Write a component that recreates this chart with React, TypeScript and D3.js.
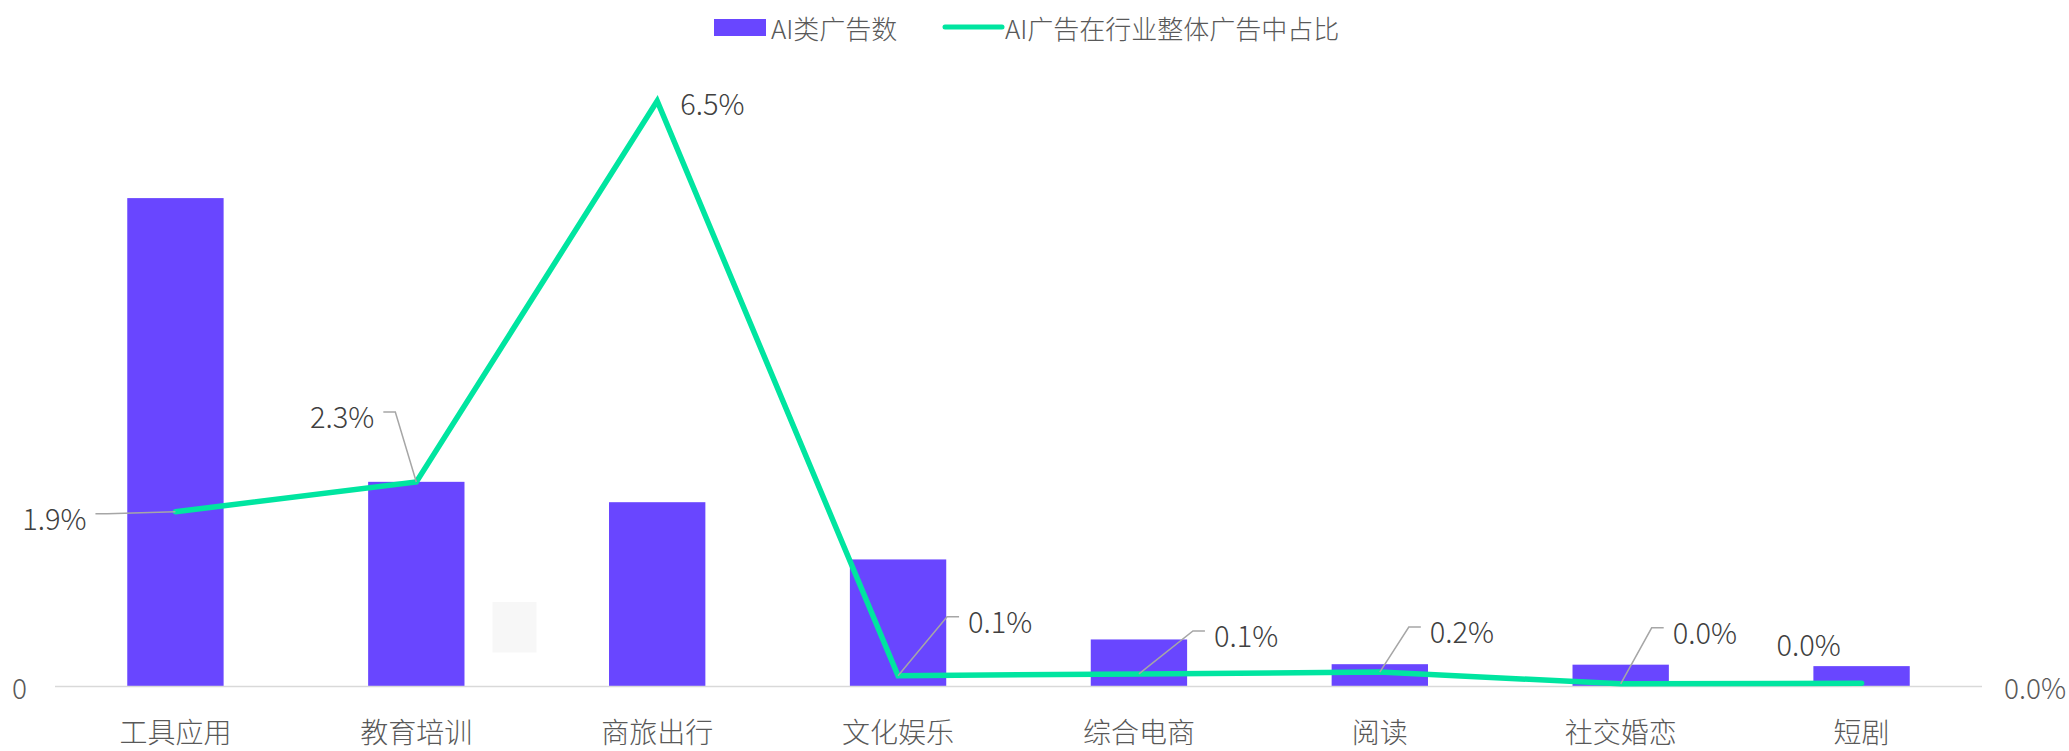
import React from 'react';
import * as d3 from 'd3';

// data
const categories = ['工具应用', '教育培训', '商旅出行', '文化娱乐', '综合电商', '阅读', '社交婚恋', '短剧'];
const adCounts = [1007, 422, 380, 262, 97, 46, 45, 42];
const aiShare = [1.94, 2.27, 6.5, 0.12, 0.14, 0.16, 0.03, 0.035];
const seriesNames = ['AI类广告数', 'AI广告在行业整体广告中占比'];

// label placement relative to each point (dx, dy, side, leader)
const labelLayout = [
  { dx: -89, dy: 5, anchor: 'end', leader: true },
  { dx: -42, dy: -67, anchor: 'end', leader: true },
  { dx: 23, dy: 1, anchor: 'start', leader: false },
  { dx: 70, dy: -56, anchor: 'start', leader: true },
  { dx: 75, dy: -40, anchor: 'start', leader: true },
  { dx: 50, dy: -42, anchor: 'start', leader: true },
  { dx: 52, dy: -53, anchor: 'start', leader: true },
  { dx: -53, dy: -40, anchor: 'middle', leader: false },
];

const W = 2069, H = 751;
const BAR = '#6946ff';
const LINE = '#00e5a0';
const FONT = '"Noto Sans CJK SC Light", "Noto Sans CJK SC", "Noto Sans", sans-serif';

export default function App() {
  const baseY = 686.5;
  const topY = 56;

  const x = d3.scaleBand()
    .domain(categories)
    .range([55, 1982])
    .paddingInner(0.6)
    .paddingOuter(0.3);
  const center = (c) => x(c) + x.bandwidth() / 2;

  const yBar = d3.scaleLinear().domain([0, 1300]).range([baseY, topY]);
  const yLine = d3.scaleLinear().domain([0, 7]).range([baseY, topY]);

  const line = d3.line()
    .x((d, i) => center(categories[i]))
    .y((d) => yLine(d));

  return (
    <svg width={W} height={H} style={{ position: 'absolute', left: 0, top: 0, fontFamily: FONT, fontWeight: 300 }}>
      <rect width={W} height={H} fill="#fff" />

      {/* legend */}
      <rect x={714} y={19} width={52} height={17} fill={BAR} />
      <text x={771} y={27} fontSize={26} fill="#595959" dominantBaseline="central">{seriesNames[0]}</text>
      <line x1={945} x2={1002} y1={27} y2={27} stroke={LINE} strokeWidth={5} strokeLinecap="round" />
      <text x={1005} y={27} fontSize={26} fill="#595959" dominantBaseline="central">{seriesNames[1]}</text>

      {/* faint artifact block */}
      <rect x={492.5} y={602} width={44} height={50.5} fill="#f7f7f7" />

      {/* bars */}
      {categories.map((c, i) => (
        <rect key={c} x={x(c)} y={yBar(adCounts[i])} width={x.bandwidth()}
          height={baseY - yBar(adCounts[i])} fill={BAR} />
      ))}

      {/* axis */}
      <line x1={x.range()[0]} x2={x.range()[1]} y1={baseY} y2={baseY} stroke="#d9d9d9" strokeWidth={1.5} />
      {yBar.ticks(1).filter((t) => t === 0).map((t) => (
        <text key={t} x={27} y={yBar(t)} fontSize={28} fill="#595959" textAnchor="end" dominantBaseline="central">{t}</text>
      ))}
      {yLine.ticks(1).filter((t) => t === 0).map((t) => (
        <text key={t} x={2066} y={yLine(t)} fontSize={28} fill="#595959" textAnchor="end" dominantBaseline="central">{t.toFixed(1) + '%'}</text>
      ))}
      {categories.map((c) => (
        <text key={c} x={center(c)} y={731} fontSize={28} fill="#595959" textAnchor="middle" dominantBaseline="central">{c}</text>
      ))}

      {/* line */}
      <path d={line(aiShare)} fill="none" stroke={LINE} strokeWidth={5.5} strokeLinejoin="miter" strokeLinecap="round" />

      {/* data labels */}
      {aiShare.map((v, i) => {
        const px = center(categories[i]);
        const py = yLine(v);
        const L = labelLayout[i];
        const tx = px + L.dx;
        const ty = py + L.dy;
        let leader = null;
        if (L.leader) {
          const sx = L.anchor === 'end' ? tx + 9 : tx - 9;
          const ex = L.anchor === 'end' ? sx + 12 : sx - 12;
          const ly = ty - 3;
          leader = <path d={`M${sx},${ly}L${ex},${ly}L${px},${py}`} fill="none" stroke="#a6a6a6" strokeWidth={1.5} />;
        }
        return (
          <g key={i}>
            {leader}
            <text x={tx} y={ty} fontSize={29} fill="#404040" textAnchor={L.anchor} dominantBaseline="central">{v.toFixed(1) + '%'}</text>
          </g>
        );
      })}
    </svg>
  );
}
